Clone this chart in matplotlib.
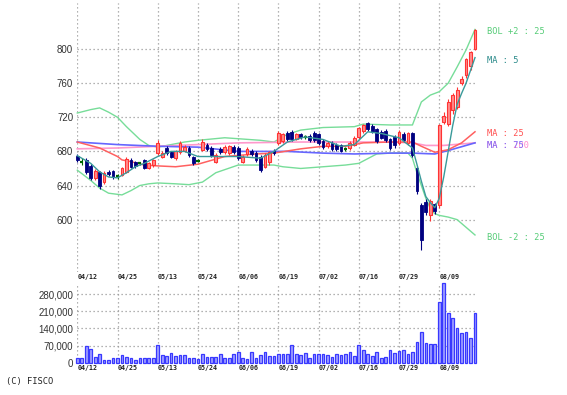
import matplotlib
matplotlib.use('Agg')
import matplotlib.pyplot as plt

plt.rcParams['font.family'] = 'DejaVu Sans'

# ---- data ----
dates = ['04/12', '04/25', '05/13', '05/24', '06/06', '06/19', '07/02', '07/16', '07/29', '08/09']
date_idx = [0, 9, 18, 27, 36, 45, 54, 63, 72, 81]

opens = [675, 668, 670, 663, 649, 656, 644, 656, 657, 651,
         652, 656, 670, 667, 666, 670, 661, 664, 678, 674,
         684, 679, 672, 679, 681, 684, 674, 669, 682, 688,
         684, 668, 683, 679, 678, 685, 684, 668, 677, 681,
         678, 674, 662, 667, 681, 690, 692, 702, 703, 695,
         700, 697, 698, 702, 700, 692, 686, 690, 688, 687,
         683, 684, 688, 697, 704, 713, 710, 706, 703, 704,
         694, 697, 690, 700, 690, 702, 661, 617, 621, 606,
         618, 617, 715, 712, 728, 732, 760, 770, 780, 800]
closes = [670, 668, 656, 649, 657, 639, 655, 653, 650, 651,
          660, 671, 662, 663, 666, 661, 666, 670, 690, 678,
          678, 674, 680, 690, 685, 676, 666, 669, 691, 683,
          676, 676, 679, 685, 686, 679, 672, 674, 683, 677,
          670, 658, 676, 679, 678, 702, 700, 694, 694, 700,
          697, 697, 693, 693, 690, 685, 690, 683, 683, 681,
          683, 690, 696, 707, 711, 706, 703, 692, 696, 693,
          684, 687, 703, 693, 701, 676, 633, 576, 609, 622,
          610, 711, 722, 738, 746, 752, 765, 788, 797, 822]
highs = [677, 672, 672, 665, 659, 657, 657, 658, 658, 653,
         662, 673, 672, 669, 668, 671, 667, 671, 693, 680,
         686, 681, 682, 692, 687, 686, 675, 671, 694, 690,
         686, 678, 685, 687, 688, 687, 686, 676, 685, 683,
         680, 676, 678, 681, 683, 704, 702, 704, 705, 702,
         701, 699, 700, 704, 702, 694, 692, 692, 690, 689,
         685, 692, 698, 709, 712, 714, 712, 708, 705, 706,
         696, 699, 705, 703, 703, 703, 663, 619, 624, 624,
         620, 712, 726, 742, 748, 756, 768, 790, 798, 824]
lows = [668, 664, 654, 647, 646, 636, 642, 651, 648, 648,
        651, 655, 660, 661, 664, 659, 659, 662, 676, 672,
        676, 672, 670, 677, 679, 674, 664, 667, 680, 681,
        674, 666, 677, 677, 676, 677, 670, 666, 675, 675,
        668, 656, 660, 664, 676, 688, 690, 692, 692, 693,
        695, 695, 691, 691, 688, 683, 684, 681, 681, 679,
        681, 682, 686, 695, 702, 704, 701, 690, 694, 691,
        682, 684, 688, 691, 688, 674, 630, 564, 606, 598,
        607, 614, 712, 710, 724, 730, 758, 766, 775, 799]

volume = [20000, 20000, 70000, 56000, 25000, 35000, 11000, 11000, 20000, 18000,
          31000, 25000, 18000, 11000, 18000, 18000, 18000, 18000, 72000, 31000,
          29000, 38000, 27000, 31000, 31000, 20000, 18000, 15000, 34000, 22000,
          25000, 25000, 34000, 20000, 20000, 37000, 45000, 18000, 14000, 45000,
          18000, 31000, 45000, 29000, 29000, 37000, 34000, 37000, 72000, 34000,
          31000, 41000, 20000, 34000, 34000, 37000, 31000, 22000, 34000, 31000,
          34000, 42000, 29000, 72000, 50000, 37000, 29000, 42000, 18000, 25000,
          50000, 38000, 48000, 50000, 34000, 45000, 86000, 127000, 79000, 76000,
          76000, 250000, 325000, 202000, 184000, 141000, 120000, 127000, 100000, 205000]

ma5_idx = [0, 3, 5, 7, 9, 11, 13, 15, 18, 21, 24, 27, 36, 41, 44, 47, 51, 55, 59, 62,
           65, 68, 72, 75, 76, 77, 78, 79, 80, 81, 82, 83, 84, 85, 86, 87, 88, 89]
ma5 = [675, 666, 656, 650, 649, 655, 662, 666, 674, 680, 680, 674, 674, 672, 680, 691, 697, 694, 686, 688,
       703, 701, 696, 684, 665, 645, 627, 620, 614, 625, 650, 680, 710, 735, 748, 760, 775, 790]

ma25_idx = [0, 5, 9, 10, 12, 15, 18, 22, 27, 33, 40, 44, 50, 55, 60, 64, 70, 75, 77, 80, 83, 86, 89]
ma25 = [691, 684, 674, 670, 668, 664, 663, 662, 665, 674, 677, 678, 683, 686, 686, 690, 691, 691, 686, 679, 682, 690, 703]

ma75_idx = [0, 9, 18, 27, 36, 47, 55, 62, 70, 75, 80, 83, 89]
ma75 = [691, 688, 686, 685, 680, 680, 678, 677, 678, 678, 677, 681, 690]

ma200_idx = [0, 9, 18, 27, 36, 50, 70, 75, 78, 82, 89]
ma200 = [683, 684, 686, 688, 690, 691, 691, 690, 687, 687, 690]

bol_up_idx = [0, 3, 5, 7, 9, 11, 14, 16, 18, 21, 24, 27, 33, 41, 44, 47, 50, 55, 62, 64,
              70, 75, 77, 79, 81, 83, 85, 87, 89]
bol_up = [725, 729, 731, 726, 720, 709, 694, 687, 685, 688, 691, 693, 696, 693, 691, 700, 705, 708, 709, 712,
          711, 711, 738, 746, 750, 760, 779, 799, 823]

bol_lo_idx = [0, 3, 5, 7, 10, 12, 14, 16, 18, 22, 25, 28, 31, 36, 44, 46, 50, 55, 60, 63,
              67, 70, 74, 75, 76, 77, 78, 79, 80, 81, 83, 85, 87, 89]
bol_lo = [658, 646, 637, 631, 629, 634, 640, 642, 643, 642, 641, 644, 655, 664, 664, 662, 660, 662, 664, 666,
          677, 678, 678, 672, 655, 640, 625, 613, 607, 605, 603, 600, 591, 582]

# ---- colours ----
up_face, up_edge = '#ff8c8c', '#ff3333'
down_col = '#000080'
even_col = '#006600'
c_ma5, c_ma25, c_ma75, c_ma200 = '#3a9a9a', '#ff6060', '#6666ff', '#ff99cc'
c_bol = '#77dd99'
grid_kw = dict(color='#999999', linestyle=(0, (1, 2.2)), linewidth=0.9)

W, H = 567, 395
fig = plt.figure(figsize=(W / 100, H / 100), dpi=100)

x0_px, x1_px = 77.3, 475.0
left = x0_px / W
width = (x1_px - x0_px) / W

ax = fig.add_axes([left, (H - 272) / H, width, (272 - 3) / H])
axv = fig.add_axes([left, (H - 362.7) / H, width, (362.7 - 283) / H])

n = len(closes)
xs = list(range(n))

# ---- price panel ----
for i in xs:
    o, c, h, l = opens[i], closes[i], highs[i], lows[i]
    if c > o:
        ax.vlines(i, l, h, color=up_edge, linewidth=0.8, clip_on=False, zorder=3)
        ax.bar(i, c - o, bottom=o, width=0.62, color=up_face, edgecolor=up_edge,
               linewidth=0.8, clip_on=False, zorder=4)
    elif c < o:
        ax.vlines(i, l, h, color=down_col, linewidth=0.8, clip_on=False, zorder=3)
        ax.bar(i, o - c, bottom=c, width=0.62, color=down_col, edgecolor=down_col,
               linewidth=0.6, clip_on=False, zorder=4)
    else:
        ax.vlines(i, l, h, color=even_col, linewidth=0.8, clip_on=False, zorder=3)
        ax.hlines(c, i - 0.35, i + 0.35, color=even_col, linewidth=1.6, clip_on=False, zorder=4)

ax.plot(bol_up_idx, bol_up, color=c_bol, linewidth=1.0, clip_on=False, zorder=2)
ax.plot(bol_lo_idx, bol_lo, color=c_bol, linewidth=1.0, clip_on=False, zorder=2)
ax.plot(ma200_idx, ma200, color=c_ma200, linewidth=1.2, clip_on=False, zorder=2)
ax.plot(ma75_idx, ma75, color=c_ma75, linewidth=1.2, clip_on=False, zorder=2)
ax.plot(ma25_idx, ma25, color=c_ma25, linewidth=1.1, clip_on=False, zorder=2)
ax.plot(ma5_idx, ma5, color=c_ma5, linewidth=1.0, clip_on=False, zorder=5)

ax.set_xlim(0, n - 1)
ax.set_ylim(538.6, 854)
ax.set_yticks([600, 640, 680, 720, 760, 800])
ax.set_xticks(date_idx)
ax.set_xticklabels(dates)

# ---- volume panel ----
axv.bar(xs, volume, width=0.6, color='#a0a0ff', edgecolor='#3838ff',
        linewidth=0.9, clip_on=False, zorder=3)
axv.set_xlim(0, n - 1)
axv.set_ylim(0, 326000)
axv.set_yticks([0, 70000, 140000, 210000, 280000])
axv.set_yticklabels(['0', '70,000', '140,000', '210,000', '280,000'])
axv.set_xticks(date_idx)
axv.set_xticklabels(dates)

for a, xpad in ((ax, 1.2), (axv, 2.0)):
    for s in a.spines.values():
        s.set_visible(False)
    a.grid(True, **grid_kw)
    a.set_axisbelow(True)
    a.tick_params(length=0, labelsize=7, labelcolor='#333333', pad=3)
    a.tick_params(axis='x', pad=xpad)
    for lab in a.get_yticklabels():
        lab.set_fontfamily('Liberation Sans')
    for lab in a.get_xticklabels():
        lab.set_fontfamily('DejaVu Sans Mono')
        lab.set_fontweight('bold')
        lab.set_fontsize(4.8)
        lab.set_horizontalalignment('left')
        lab.set_color('#222222')

axv.yaxis.get_gridlines()[0].set_visible(False)

# ---- right-hand legend labels (the MA 75 / MA 200 pair overlaps in the original) ----
lx = 487 / W
mono = dict(family='DejaVu Sans Mono', fontsize=6.2, va='center', ha='left')
fig.text(lx, 1 - 31.7 / H, 'BOL +2 : 25', color='#55cc77', **mono)
fig.text(lx, 1 - 60.7 / H, 'MA : 5', color='#2a8a8a', **mono)
fig.text(lx, 1 - 134 / H, 'MA : 25', color='#ff5050', **mono)
fig.text(lx, 1 - 145.3 / H, 'MA : 200', color='#ff88cc', **mono)
fig.text(lx, 1 - 145.3 / H, 'MA : 75', color='#6060ff', alpha=0.8, **mono)
fig.text(lx, 1 - 237 / H, 'BOL -2 : 25', color='#55cc77', **mono)

fig.text(6 / W, 1 - 381.7 / H, '(C) FISCO', family='DejaVu Sans Mono', fontsize=6.3,
         color='#222222', va='center', ha='left')

fig.savefig('out.png', dpi=100)
